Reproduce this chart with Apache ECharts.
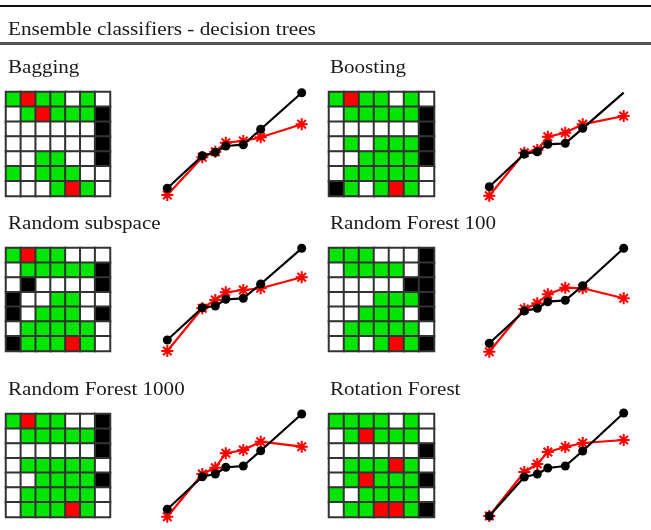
<!DOCTYPE html>
<html><head><meta charset="utf-8">
<script src="https://cdn.jsdelivr.net/npm/echarts@6/dist/echarts.min.js"></script>
<style>html,body{margin:0;padding:0;background:#fff}#c{width:651px;height:530px}</style>
</head><body><div id="c"></div>
<script>
// ---------- data ----------
const mainTitle = 'Ensemble classifiers - decision trees';
const panelTitles = ['Bagging', 'Boosting', 'Random subspace', 'Random Forest 100', 'Random Forest 1000', 'Rotation Forest'];

// cell states: W = white, G = green, R = red, K = black (rows top to bottom)
const cellsBagging = ['GRGGWGW', 'WGRGGGK', 'WWWWWWK', 'WWWWWWK', 'WWGGWWK', 'GWGGGWW', 'WWWGRGW'];
const cellsBoosting = ['GRGGWGW', 'WGGGGGK', 'WWWWWWK', 'WGWGGGK', 'WWGGGGK', 'WGGGGGW', 'KGWGRGW'];
const cellsRandomSubspace = ['GRGGWWW', 'WGGGGGK', 'WKWWWWK', 'KWWGGWW', 'KWGGGWK', 'WGGGGGW', 'KGGGRGW'];
const cellsRF100 = ['GGGWWWK', 'WGGGGWK', 'WWWWWKK', 'WWWGGGK', 'WWGGGWK', 'WGGGGGW', 'WGWGRGK'];
const cellsRF1000 = ['GRGGWWK', 'WGGGGGK', 'WWWWWWK', 'WGGGGGW', 'WWGGGGK', 'WGGGGGW', 'WGGGRGW'];
const cellsRotation = ['GGGGWGW', 'WGRGGGW', 'WWWWWWK', 'WGGGRGW', 'WGRGGGK', 'GWGGGGW', 'WGGRRGK'];

// x positions shared by all curves
const xPos = [0, 35, 48, 58.5, 76, 93.4, 134.4];

// curves (black = dots, red = asterisks)
const blackBagging = [11.7, 44.3, 47.7, 54, 55.3, 70.7, 107.3];
const redBagging = [5, 42.7, 48.3, 57.3, 59, 62.7, 75.7];
const blackBoosting = [13.3, 46, 48.3, 55.7, 56.7, 71.7, 107.3];
const redBoosting = [4.3, 47.3, 50, 63.3, 67.3, 75.7, 84];
const blackRandomSubspace = [15, 47.3, 49, 55.7, 56.7, 71, 106.7];
const redRandomSubspace = [4, 46.7, 55, 62.7, 65, 66.7, 77.7];
const blackRF100 = [11.7, 44, 46.7, 53.3, 54.7, 69.3, 106.7];
const redRF100 = [3.3, 46, 51.7, 60.7, 67.3, 66.7, 56.7];
const blackRF1000 = [10.7, 43.3, 46, 52.7, 54, 69.3, 106];
const redRF1000 = [3.3, 46, 52.3, 66.7, 70, 78.3, 73.3];
const blackRotation = [4, 43, 46, 52, 54, 69, 107];
const redRotation = [4, 48, 56, 68, 73, 77, 80];

// ---------- assembly ----------
const cellSets = [cellsBagging, cellsBoosting, cellsRandomSubspace, cellsRF100, cellsRF1000, cellsRotation];
const blackSets = [blackBagging, blackBoosting, blackRandomSubspace, blackRF100, blackRF1000, blackRotation];
const redSets = [redBagging, redBoosting, redRandomSubspace, redRF100, redRF1000, redRotation];
const codeOf = { W: 0, G: 1, R: 2, K: 3 };

const heatLeft = [6, 329], heatW = [104, 105];
const lineLeft = [167.3, 489.3], lineW = 134.4;
const heatTop = [92, 248, 414], heatH = [104, 103, 103];
const lineBase = [200, 355, 520], lineH = 110;
const titleY = [68.5, 224, 390];
const titleX = [8, 330];

// asterisk symbol path
function asteriskPath() {
  const L = 5, w = 0.85;
  let p = '';
  [0, 45, 90, 135].forEach(a => {
    const t = a * Math.PI / 180, c = Math.cos(t), s = Math.sin(t);
    const pts = [[-L, -w], [L, -w], [L, w], [-L, w]].map(([x, y]) => [x * c - y * s, x * s + y * c]);
    p += 'M' + pts.map(q => q[0].toFixed(3) + ',' + q[1].toFixed(3)).join('L') + 'Z';
  });
  return 'path://' + p;
}
const asterisk = asteriskPath();

const grids = [], xAxes = [], yAxes = [], series = [], heatIdx = [];
const idx = ['0', '1', '2', '3', '4', '5', '6'];

for (let i = 0; i < 6; i++) {
  const col = i % 2, row = Math.floor(i / 2);
  grids.push({ left: heatLeft[col], top: heatTop[row], width: heatW[col], height: heatH[row] });
  xAxes.push({ type: 'category', data: idx, gridIndex: 2 * i, show: false });
  yAxes.push({ type: 'category', data: idx, gridIndex: 2 * i, show: false, inverse: true });
  grids.push({ left: lineLeft[col], top: lineBase[row] - lineH, width: lineW, height: lineH });
  xAxes.push({ type: 'value', min: 0, max: 134.4, gridIndex: 2 * i + 1, show: false });
  yAxes.push({ type: 'value', min: 0, max: 110, gridIndex: 2 * i + 1, show: false });

  const data = [];
  cellSets[i].forEach((r, ri) => r.split('').forEach((ch, ci) => data.push([ci, ri, codeOf[ch]])));
  heatIdx.push(series.length);
  series.push({
    type: 'heatmap', xAxisIndex: 2 * i, yAxisIndex: 2 * i, data,
    itemStyle: { borderColor: '#333', borderWidth: 2 },
    emphasis: { disabled: true }, silent: true
  });
  series.push({
    type: 'line', xAxisIndex: 2 * i + 1, yAxisIndex: 2 * i + 1,
    data: redSets[i].map((v, k) => [xPos[k], v]),
    symbol: asterisk, symbolSize: 12, showAllSymbol: true,
    lineStyle: { color: '#ff0000', width: 2.2 }, itemStyle: { color: '#ff0000' },
    silent: true, animation: false, z: 2
  });
  series.push({
    type: 'line', xAxisIndex: 2 * i + 1, yAxisIndex: 2 * i + 1,
    data: blackSets[i].map((v, k) => {
      const d = { value: [xPos[k], v] };
      if (i === 1 && k === 6) d.symbolSize = 0;
      return d;
    }),
    symbol: 'circle', symbolSize: 9, showAllSymbol: true,
    lineStyle: { color: '#000', width: 2.2 }, itemStyle: { color: '#000' },
    silent: true, animation: false, z: 3
  });
}

const textFont = '18px "Liberation Serif", "DejaVu Serif", serif';
const graphic = [
  { type: 'line', shape: { x1: 0, y1: 6, x2: 651, y2: 6 }, style: { stroke: '#111', lineWidth: 2 } },
  { type: 'line', shape: { x1: 0, y1: 43.5, x2: 651, y2: 43.5 }, style: { stroke: '#555', lineWidth: 3 } },
  { type: 'text', x: 8, y: 30.7, scaleX: 1.18, style: { text: mainTitle, font: textFont, fill: '#1a1a1a', verticalAlign: 'middle' } }
];
panelTitles.forEach((t, i) => {
  graphic.push({ type: 'text', x: titleX[i % 2], y: titleY[Math.floor(i / 2)], scaleX: 1.17,
    style: { text: t, font: textFont, fill: '#1a1a1a', verticalAlign: 'middle' } });
});

const chart = echarts.init(document.getElementById('c'), null, { renderer: 'canvas' });
chart.setOption({
  animation: false,
  backgroundColor: '#fff',
  grid: grids, xAxis: xAxes, yAxis: yAxes,
  visualMap: {
    type: 'piecewise', show: false, seriesIndex: heatIdx, dimension: 2,
    pieces: [
      { value: 0, color: '#ffffff' },
      { value: 1, color: '#00e600' },
      { value: 2, color: '#ff0000' },
      { value: 3, color: '#000000' }
    ]
  },
  series, graphic
});
</script></body></html>
